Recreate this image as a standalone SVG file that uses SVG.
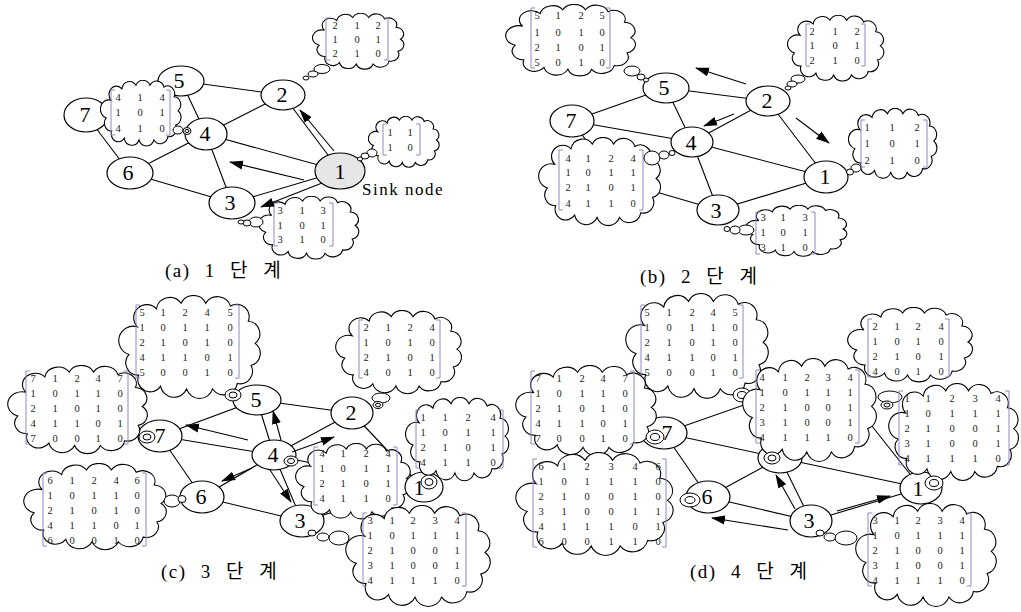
<svg xmlns="http://www.w3.org/2000/svg" xmlns:xlink="http://www.w3.org/1999/xlink" width="1021" height="612" viewBox="0 0 1021 612">
<style>
.e{stroke:#000;stroke-width:1.1;fill:none}
.a{stroke:#000;stroke-width:1.1;fill:none;marker-end:url(#ah)}
.n{fill:#fff;stroke:#000;stroke-width:1.2}
.sink{fill:#e6e6e6;stroke:#000;stroke-width:1.2}
.lbl{font-family:"Liberation Serif",serif;font-size:22px;text-anchor:middle;fill:#000}
.m{font-family:"Liberation Serif",serif;font-size:10.5px;fill:#222;text-anchor:middle}
.br{stroke:#8c88c0;stroke-width:1;fill:none}
.b{fill:#fff;stroke:#000;stroke-width:1}
.cap{font-family:"Liberation Serif","Noto Sans CJK KR",serif;font-size:19px;fill:#000;letter-spacing:1.5px;word-spacing:8px}
.sinkt{font-family:"Liberation Serif",serif;font-size:17px;fill:#000;letter-spacing:1.5px}
</style>
<defs>
<marker id="ah" viewBox="0 0 14 10" refX="13" refY="5" markerWidth="14" markerHeight="10" markerUnits="userSpaceOnUse" orient="auto"><path d="M0,0.5 L14,5 L0,9.5 z" fill="#000"/></marker>
<symbol id="cloud" viewBox="-4 -1 105 76" preserveAspectRatio="none"><path d="M10,22 A9,9 0 0 1 24,9 A10,10 0 0 1 42,5 A10,10 0 0 1 60,5 A10,10 0 0 1 78,7 A9,9 0 0 1 91,18 A9,9 0 0 1 96,34 A9,9 0 0 1 93,50 A9,9 0 0 1 83,63 A10,10 0 0 1 65,67 A10,10 0 0 1 46,67 A10,10 0 0 1 27,65 A9,9 0 0 1 11,57 A9,9 0 0 1 4,42 A9,9 0 0 1 10,22 Z" fill="#fff" stroke="#000" stroke-width="1.1" vector-effect="non-scaling-stroke"/></symbol>
</defs>
<rect width="1021" height="612" fill="#fff"/>

<!-- ============ PANEL A ============ -->
<g id="panel-a">
<g id="a-edges" class="e">
<path d="M181,81 L283,95 M181,81 L206,134 M283,95 L206,134 M283,95 L340,171 M86,115 L206,134 M86,115 L181,81 M86,115 L130,173 M206,134 L130,173 M206,134 L340,171 M206,134 L232,203 M130,173 L232,203 M232,203 L340,171"/>
</g>
<g id="a-n5"><ellipse class="n" cx="181" cy="81" rx="23" ry="15"/><text class="lbl" x="179" y="88">5</text></g>
<g id="a-n2"><ellipse class="n" cx="283" cy="95" rx="22" ry="15"/><text class="lbl" x="282" y="102">2</text></g>
<g id="a-n7"><ellipse class="n" cx="86" cy="115" rx="22" ry="17"/><text class="lbl" x="85" y="122">7</text></g>
<g id="a-n4"><ellipse class="n" cx="206" cy="134" rx="21" ry="16"/><text class="lbl" x="205" y="141">4</text></g>
<g id="a-n6"><ellipse class="n" cx="130" cy="173" rx="23" ry="16"/><text class="lbl" x="128" y="180">6</text></g>
<g id="a-n1"><ellipse class="sink" cx="340" cy="171" rx="25" ry="18"/><text class="lbl" x="340" y="179">1</text></g>
<g id="a-n3"><ellipse class="n" cx="232" cy="203" rx="23" ry="16"/><text class="lbl" x="230" y="210">3</text></g>

<g id="a-m7"><use href="#cloud" x="100" y="80" width="82" height="67"/>
<path class="br" d="M115,90 H111 V135 H115 M166,90 H170 V135 H166"/>
<text class="m" x="118 140 162" y="101">414</text><text class="m" x="118 140 162" y="116">101</text><text class="m" x="118 140 162" y="132">410</text>
<ellipse class="b" cx="178" cy="130" rx="5" ry="4"/><ellipse class="b" cx="187" cy="131" rx="4" ry="3.5"/><ellipse class="b" cx="187" cy="131" rx="2" ry="1.6"/></g>

<g id="a-m2"><use href="#cloud" x="312" y="13" width="93" height="57"/>
<path class="br" d="M330,18 H326 V60 H330 M384,18 H388 V60 H384"/>
<text class="m" x="335 357 378" y="29">212</text><text class="m" x="335 357 378" y="43">101</text><text class="m" x="335 357 378" y="57">210</text>
<ellipse class="b" cx="322" cy="69" rx="8" ry="4.5"/><ellipse class="b" cx="313" cy="74" rx="5" ry="3"/><ellipse class="b" cx="306" cy="78" rx="3" ry="2"/></g>

<g id="a-m1"><use href="#cloud" x="368" y="116" width="72" height="52"/>
<path class="br" d="M387,124 H383 V155 H387 M416,124 H420 V155 H416"/>
<text class="m" x="390 410" y="136">11</text><text class="m" x="390 410" y="151">10</text>
<ellipse class="b" cx="372" cy="153" rx="5" ry="4"/><ellipse class="b" cx="365" cy="156" rx="4" ry="3"/><ellipse class="b" cx="360" cy="159" rx="2.5" ry="2"/></g>

<g id="a-m3"><use href="#cloud" x="258" y="196" width="102" height="64"/>
<path class="br" d="M278,203 H274 V246 H278 M329,203 H333 V246 H329"/>
<text class="m" x="280 302 323" y="214">313</text><text class="m" x="280 302 323" y="229">101</text><text class="m" x="280 302 323" y="243">310</text>
<ellipse class="b" cx="256" cy="222" rx="7" ry="5"/><ellipse class="b" cx="247" cy="223" rx="4" ry="3"/><ellipse class="b" cx="241" cy="222" rx="3" ry="2"/></g>

<g id="a-arrows">
<path class="a" d="M334,151 L300,110"/>
<path class="a" d="M304,180 L230,162"/>
<path class="a" d="M322,183 L261,207"/>
</g>
<text class="sinkt" x="362" y="195">Sink node</text>
<text class="cap" x="165" y="277">(a) 1 단 계</text>
</g>

<!-- ============ PANEL B ============ -->
<g id="panel-b">
<g id="b-edges" class="e">
<path d="M666,88 L768,101 M666,88 L692,142 M768,101 L692,142 M768,101 L826,177 M572,121 L692,142 M572,121 L666,88 M572,121 L615,180 M692,142 L615,180 M692,142 L826,177 M692,142 L718,210 M615,180 L718,210 M718,210 L826,177"/>
</g>
<g id="b-n5"><ellipse class="n" cx="666" cy="88" rx="23" ry="15"/><text class="lbl" x="664" y="95">5</text></g>
<g id="b-n2"><ellipse class="n" cx="768" cy="101" rx="22" ry="15"/><text class="lbl" x="767" y="108">2</text></g>
<g id="b-n7"><ellipse class="n" cx="572" cy="121" rx="22" ry="16"/><text class="lbl" x="571" y="128">7</text></g>
<g id="b-n4"><ellipse class="n" cx="692" cy="142" rx="21" ry="15"/><text class="lbl" x="691" y="150">4</text></g>
<g id="b-n1"><ellipse class="n" cx="826" cy="177" rx="22" ry="16"/><text class="lbl" x="825" y="184">1</text></g>
<g id="b-n3"><ellipse class="n" cx="718" cy="210" rx="21" ry="15"/><text class="lbl" x="716" y="218">3</text></g>

<g id="b-m5"><use href="#cloud" x="505" y="4" width="132" height="73"/>
<path class="br" d="M535,8 H531 V68 H535 M606,8 H610 V68 H606"/>
<text class="m" x="537 558 581 602" y="19">5125</text><text class="m" x="537 558 581 602" y="36">1010</text><text class="m" x="537 558 581 602" y="51">2101</text><text class="m" x="537 558 581 602" y="66">5010</text>
<ellipse class="b" cx="632" cy="71" rx="8" ry="5"/><ellipse class="b" cx="641" cy="77" rx="4" ry="3"/><ellipse class="b" cx="646" cy="80" rx="2.5" ry="2"/></g>

<g id="b-m2"><use href="#cloud" x="787" y="15" width="98" height="67"/>
<path class="br" d="M810,24 H806 V66 H810 M861,24 H865 V66 H861"/>
<text class="m" x="812 835 857" y="35">212</text><text class="m" x="812 835 857" y="49">101</text><text class="m" x="812 835 857" y="64">210</text>
<ellipse class="b" cx="798" cy="79" rx="7" ry="4"/><ellipse class="b" cx="792" cy="84" rx="5" ry="3"/><ellipse class="b" cx="788" cy="88" rx="3" ry="2"/></g>

<g id="b-m1"><use href="#cloud" x="848" y="108" width="90" height="72"/>
<path class="br" d="M865,120 H861 V167 H865 M923,120 H927 V167 H923"/>
<text class="m" x="867 892 917" y="131">112</text><text class="m" x="867 892 917" y="147">101</text><text class="m" x="867 892 917" y="164">210</text>
<ellipse class="b" cx="856" cy="168" rx="5" ry="4"/><ellipse class="b" cx="850" cy="172" rx="3.5" ry="3"/></g>

<g id="b-m4"><use href="#cloud" x="538" y="137" width="124" height="90"/>
<path class="br" d="M563,150 H559 V210 H563 M639,150 H643 V210 H639"/>
<text class="m" x="568 588 611 633" y="162">4124</text><text class="m" x="568 588 611 633" y="176">1011</text><text class="m" x="568 588 611 633" y="191">2101</text><text class="m" x="568 588 611 633" y="207">4110</text>
<ellipse class="b" cx="652" cy="158" rx="8" ry="7"/><ellipse class="b" cx="664" cy="155" rx="5" ry="4"/><ellipse class="b" cx="672" cy="153" rx="3" ry="2.5"/></g>

<g id="b-m3"><use href="#cloud" x="745" y="205" width="103" height="52"/>
<path class="br" d="M760,212 H756 V254 H760 M811,212 H815 V254 H811"/>
<text class="m" x="763 783 805" y="221">313</text><text class="m" x="763 783 805" y="236">101</text><text class="m" x="763 783 805" y="251">310</text>
<ellipse class="b" cx="746" cy="230" rx="8" ry="5"/><ellipse class="b" cx="735" cy="230" rx="5" ry="4"/><ellipse class="b" cx="727" cy="229" rx="3" ry="2.5"/></g>

<g id="b-arrows">
<path class="a" d="M746,84 L696,68"/>
<path class="a" d="M734,114 L704,126"/>
<path class="a" d="M796,118 L829,143"/>
</g>
<text class="cap" x="640" y="283">(b) 2 단 계</text>
</g>

<!-- ============ PANEL C ============ -->
<g id="panel-c">
<g id="c-edges" class="e">
<path d="M160,436 L257,400 M160,436 L274,455 M160,436 L202,497 M257,400 L352,413 M257,400 L274,455 M352,413 L274,455 M352,413 L422,487 M274,455 L202,497 M274,455 L422,487 M274,455 L302,521 M202,497 L302,521 M302,521 L422,487"/>
</g>
<g id="c-n5"><ellipse class="n" cx="257" cy="400" rx="24" ry="15"/><text class="lbl" x="256" y="407">5</text></g>
<g id="c-n2"><ellipse class="n" cx="352" cy="413" rx="21" ry="16"/><text class="lbl" x="351" y="420">2</text></g>
<g id="c-n7"><ellipse class="n" cx="160" cy="436" rx="22" ry="16"/><text class="lbl" x="160" y="443">7</text></g>
<g id="c-n4"><ellipse class="n" cx="274" cy="455" rx="22" ry="15"/><text class="lbl" x="273" y="462">4</text></g>
<g id="c-n6"><ellipse class="n" cx="202" cy="497" rx="22" ry="16"/><text class="lbl" x="201" y="504">6</text></g>
<g id="c-n3"><ellipse class="n" cx="302" cy="521" rx="22" ry="16"/><text class="lbl" x="300" y="528">3</text></g>

<g id="c-m5"><use href="#cloud" x="118" y="295" width="144" height="105"/>
<path class="br" d="M140,305 H136 V378 H140 M235,305 H239 V378 H235"/>
<text class="m" x="142 163 185 207 230" y="316">51245</text><text class="m" x="142 163 185 207 230" y="331">10110</text><text class="m" x="142 163 185 207 230" y="346">21010</text><text class="m" x="142 163 185 207 230" y="361">41101</text><text class="m" x="142 163 185 207 230" y="376">50010</text>
<ellipse class="b" cx="233" cy="395" rx="8" ry="6"/><ellipse class="b" cx="233" cy="395" rx="4" ry="3"/></g>

<g id="c-m7"><use href="#cloud" x="7" y="365" width="142" height="90"/>
<path class="br" d="M30,371 H26 V444 H30 M124,371 H128 V444 H124"/>
<text class="m" x="33 55 77 98 120" y="382">71247</text><text class="m" x="33 55 77 98 120" y="397">10110</text><text class="m" x="33 55 77 98 120" y="412">21010</text><text class="m" x="33 55 77 98 120" y="427">41101</text><text class="m" x="33 55 77 98 120" y="442">70010</text>
<ellipse class="b" cx="147" cy="437" rx="8" ry="6"/><ellipse class="b" cx="147" cy="437" rx="4" ry="3"/></g>

<g id="c-m6"><use href="#cloud" x="23" y="463" width="145" height="88"/>
<path class="br" d="M47,473 H43 V546 H47 M142,473 H146 V546 H142"/>
<text class="m" x="50 72 94 116 137" y="484">61246</text><text class="m" x="50 72 94 116 137" y="499">10110</text><text class="m" x="50 72 94 116 137" y="514">21010</text><text class="m" x="50 72 94 116 137" y="529">41101</text><text class="m" x="50 72 94 116 137" y="544">60010</text>
<ellipse class="b" cx="172" cy="501" rx="8" ry="6"/><ellipse class="b" cx="182" cy="499" rx="4" ry="3.5"/></g>

<g id="c-m2"><use href="#cloud" x="335" y="310" width="128" height="85"/>
<path class="br" d="M363,320 H359 V378 H363 M436,320 H440 V378 H436"/>
<text class="m" x="366 388 410 432" y="331">2124</text><text class="m" x="366 388 410 432" y="346">1010</text><text class="m" x="366 388 410 432" y="361">2101</text><text class="m" x="366 388 410 432" y="376">4010</text>
<ellipse class="b" cx="381" cy="398" rx="9" ry="5"/><ellipse class="b" cx="378" cy="405" rx="5" ry="3.5"/><ellipse class="b" cx="378" cy="405" rx="2.5" ry="1.8"/></g>

<g id="c-m4"><use href="#cloud" x="295" y="443" width="117" height="77"/>
<path class="br" d="M318,447 H314 V505 H318 M393,447 H397 V505 H393"/>
<text class="m" x="322 343 366 388" y="457">4124</text><text class="m" x="322 343 366 388" y="472">1011</text><text class="m" x="322 343 366 388" y="487">2101</text><text class="m" x="322 343 366 388" y="502">4110</text>
<ellipse class="b" cx="291" cy="461" rx="7" ry="5"/><ellipse class="b" cx="291" cy="461" rx="3.5" ry="2.5"/></g>

<g id="c-n1"><ellipse class="n" cx="424" cy="487" rx="19" ry="15"/><text class="lbl" x="419" y="495">1</text></g>

<g id="c-m1"><use href="#cloud" x="405" y="397" width="105" height="85"/>
<path class="br" d="M420,410 H416 V468 H420 M499,410 H503 V468 H499"/>
<text class="m" x="423 445 468 493" y="421">1124</text><text class="m" x="423 445 468 493" y="436">1011</text><text class="m" x="423 445 468 493" y="451">2101</text><text class="m" x="423 445 468 493" y="466">4110</text>
<ellipse class="b" cx="429" cy="482" rx="8" ry="7"/><ellipse class="b" cx="429" cy="482" rx="4" ry="3.5"/></g>

<g id="c-m3"><use href="#cloud" x="345" y="505" width="147" height="103"/>
<path class="br" d="M367,513 H363 V586 H367 M462,513 H466 V586 H462"/>
<text class="m" x="370 392 413 435 457" y="524">31234</text><text class="m" x="370 392 413 435 457" y="539">10111</text><text class="m" x="370 392 413 435 457" y="554">21001</text><text class="m" x="370 392 413 435 457" y="569">31001</text><text class="m" x="370 392 413 435 457" y="584">41110</text>
<ellipse class="b" cx="312" cy="533" rx="4" ry="3"/><ellipse class="b" cx="323" cy="537" rx="6" ry="4"/><ellipse class="b" cx="339" cy="538" rx="10" ry="7"/></g>

<g id="c-arrows">
<path class="a" d="M281,440 L273,411"/>
<path class="a" d="M248,440 L186,425"/>
<path class="a" d="M292,452 L334,437"/>
<path class="a" d="M252,468 L222,481"/>
<path class="a" d="M270,470 L291,502"/>
</g>
<text class="cap" x="161" y="578">(c) 3 단 계</text>
</g>

<!-- ============ PANEL D ============ -->
<g id="panel-d">
<g id="d-edges" class="e">
<path d="M664,433 L764,398 M664,433 L780,458 M664,433 L708,497 M764,398 L860,411 M764,398 L780,458 M860,411 L780,458 M860,411 L921,488 M780,458 L708,497 M780,458 L921,488 M780,458 L811,521 M708,497 L811,521 M811,521 L921,488"/>
</g>
<g id="d-n7"><ellipse class="n" cx="664" cy="433" rx="23" ry="16"/><text class="lbl" x="667" y="440">7</text></g>
<g id="d-n4"><ellipse class="n" cx="780" cy="458" rx="22" ry="15"/></g>
<g id="d-n6"><ellipse class="n" cx="708" cy="497" rx="22" ry="16"/><text class="lbl" x="707" y="504">6</text></g>
<g id="d-n3"><ellipse class="n" cx="811" cy="521" rx="21" ry="16"/><text class="lbl" x="809" y="528">3</text></g>
<g id="d-n1"><ellipse class="n" cx="921" cy="488" rx="21" ry="16"/><text class="lbl" x="918" y="496">1</text></g>

<g id="d-m5"><use href="#cloud" x="625" y="293" width="145" height="107"/>
<path class="br" d="M645,305 H641 V378 H645 M739,305 H743 V378 H739"/>
<text class="m" x="647 669 692 713 735" y="316">51245</text><text class="m" x="647 669 692 713 735" y="331">10110</text><text class="m" x="647 669 692 713 735" y="346">21010</text><text class="m" x="647 669 692 713 735" y="361">41101</text><text class="m" x="647 669 692 713 735" y="376">50010</text>
<ellipse class="b" cx="742" cy="395" rx="9" ry="7"/><ellipse class="b" cx="742" cy="395" rx="4.5" ry="3.5"/></g>

<g id="d-m7"><use href="#cloud" x="515" y="365" width="143" height="92"/>
<path class="br" d="M535,371 H531 V444 H535 M630,371 H634 V444 H630"/>
<text class="m" x="538 559 582 603 625" y="382">71247</text><text class="m" x="538 559 582 603 625" y="397">10110</text><text class="m" x="538 559 582 603 625" y="412">21010</text><text class="m" x="538 559 582 603 625" y="427">41101</text><text class="m" x="538 559 582 603 625" y="442">70010</text>
<ellipse class="b" cx="655" cy="437" rx="9" ry="7"/><ellipse class="b" cx="655" cy="437" rx="4.5" ry="3.5"/></g>

<g id="d-m6"><use href="#cloud" x="515" y="452" width="160" height="105"/>
<path class="br" d="M537,459 H533 V547 H537 M662,459 H666 V547 H662"/>
<text class="m" x="541 564 587 611 635 658" y="470">612346</text><text class="m" x="541 564 587 611 635 658" y="485">101110</text><text class="m" x="541 564 587 611 635 658" y="500">210010</text><text class="m" x="541 564 587 611 635 658" y="515">310011</text><text class="m" x="541 564 587 611 635 658" y="530">411101</text><text class="m" x="541 564 587 611 635 658" y="545">600110</text>
<ellipse class="b" cx="690" cy="500" rx="10" ry="7"/><ellipse class="b" cx="690" cy="500" rx="5" ry="3.5"/></g>

<g id="d-m4"><use href="#cloud" x="742" y="358" width="136" height="105"/>
<path class="br" d="M760,370 H756 V443 H760 M855,370 H859 V443 H855"/>
<text class="m" x="762 785 807 828 850" y="381">41234</text><text class="m" x="762 785 807 828 850" y="396">10111</text><text class="m" x="762 785 807 828 850" y="411">21001</text><text class="m" x="762 785 807 828 850" y="426">31001</text><text class="m" x="762 785 807 828 850" y="441">41110</text>
<ellipse class="b" cx="772" cy="458" rx="8" ry="6"/><ellipse class="b" cx="772" cy="458" rx="4" ry="3"/></g>

<g id="d-m2"><use href="#cloud" x="847" y="307" width="127" height="76"/>
<path class="br" d="M872,319 H868 V377 H872 M945,319 H949 V377 H945"/>
<text class="m" x="875 897 918 941" y="330">2124</text><text class="m" x="875 897 918 941" y="345">1010</text><text class="m" x="875 897 918 941" y="360">2101</text><text class="m" x="875 897 918 941" y="375">4010</text>
<ellipse class="b" cx="890" cy="397" rx="12" ry="6"/><ellipse class="b" cx="887" cy="405" rx="6" ry="4"/><ellipse class="b" cx="887" cy="405" rx="3" ry="2"/></g>

<g id="d-m1"><use href="#cloud" x="888" y="383" width="132" height="99"/>
<path class="br" d="M903,391 H899 V465 H903 M1005,391 H1009 V465 H1005"/>
<text class="m" x="907 928 952 975 998" y="402">11234</text><text class="m" x="907 928 952 975 998" y="417">10111</text><text class="m" x="907 928 952 975 998" y="432">21001</text><text class="m" x="907 928 952 975 998" y="447">31001</text><text class="m" x="907 928 952 975 998" y="462">41110</text>
<ellipse class="b" cx="934" cy="483" rx="9" ry="7"/><ellipse class="b" cx="934" cy="483" rx="4.5" ry="3.5"/></g>

<g id="d-m3"><use href="#cloud" x="855" y="503" width="143" height="105"/>
<path class="br" d="M872,513 H868 V586 H872 M967,513 H971 V586 H967"/>
<text class="m" x="875 897 918 940 962" y="524">31234</text><text class="m" x="875 897 918 940 962" y="539">10111</text><text class="m" x="875 897 918 940 962" y="554">21001</text><text class="m" x="875 897 918 940 962" y="569">31001</text><text class="m" x="875 897 918 940 962" y="584">41110</text>
<ellipse class="b" cx="820" cy="533" rx="4" ry="3"/><ellipse class="b" cx="830" cy="537" rx="6" ry="4"/><ellipse class="b" cx="846" cy="538" rx="11" ry="7"/></g>

<g id="d-arrows">
<path class="a" d="M788,530 L712,518"/>
<path class="a" d="M795,509 L776,475"/>
<path class="a" d="M837,511 L890,496"/>
</g>
<text class="cap" x="690" y="578">(d) 4 단 계</text>
</g>
</svg>
